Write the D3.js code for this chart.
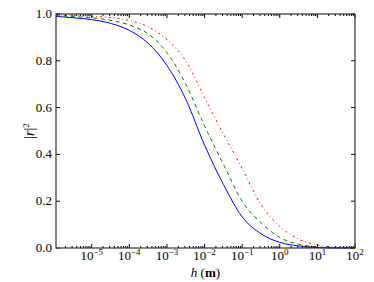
<!DOCTYPE html>
<html>
<head>
<meta charset="utf-8">
<script src="https://cdn.jsdelivr.net/npm/d3@7"></script>
<style>
  body { margin: 0; background: #fff; }
  text { font-family: "Liberation Serif", "DejaVu Serif", serif; fill: #000; }
</style>
</head>
<body>
<div id="chart"></div>
<script>
// log10(h) sample points shared by the three curves
const logH = [-5.95, -5.5, -5, -4.5, -4, -3.5, -3, -2.5, -2, -1.5, -1, -0.5, 0, 0.5, 1, 1.5, 2];
// |r|^2
const blueVals  = [0.990, 0.984, 0.976, 0.960, 0.930, 0.875, 0.780, 0.636, 0.440, 0.272, 0.133, 0.061, 0.024, 0.009, 0.002, 0.0005, 0.0001];
const greenVals = [0.993, 0.989, 0.984, 0.973, 0.953, 0.915, 0.835, 0.700, 0.522, 0.358, 0.200, 0.108, 0.045, 0.016, 0.004, 0.001, 0.0002];
const redVals   = [0.996, 0.994, 0.990, 0.985, 0.972, 0.945, 0.890, 0.800, 0.642, 0.488, 0.340, 0.185, 0.092, 0.038, 0.013, 0.003, 0.001];
const xTickExp = [-5, -4, -3, -2, -1, 0, 1, 2];
const yTicks = [0.0, 0.2, 0.4, 0.6, 0.8, 1.0];

const W = 374, H = 282;
const m = {left: 56, right: 19, top: 14, bottom: 34};

let svg = d3.select('#chart').append('svg')
            .attr('width', W)
            .attr('height', H);

let x = d3.scaleLog()
          .domain([Math.pow(10, -5.95), 100])
          .range([m.left, W - m.right]);
let y = d3.scaleLinear()
          .domain([0, 1])
          .range([H - m.bottom, m.top]);

// minor ticks on the log axis
let minor = [];
for (let e = -6; e < 2; e++) {
  for (let k = 2; k <= 9; k++) {
    let v = k * Math.pow(10, e);
    if (v >= x.domain()[0] && v <= x.domain()[1]) minor.push(v);
  }
}
let major = xTickExp.map(e => Math.pow(10, e));

let plot = svg.append('g');

// curves
let series = [
  {vals: blueVals,  color: '#0000ff', dash: null},
  {vals: greenVals, color: '#008000', dash: '4,3.5'},
  {vals: redVals,   color: '#ff0000', dash: '2,3,0.8,3'}
];
let line = d3.line()
             .x(d => x(Math.pow(10, d[0])))
             .y(d => y(d[1]))
             .curve(d3.curveMonotoneX);

plot.selectAll('path.curve').data(series)
    .join('path')
    .attr('class', 'curve')
    .attr('fill', 'none')
    .attr('stroke', d => d.color)
    .attr('stroke-width', 1)
    .attr('stroke-dasharray', d => d.dash)
    .attr('d', d => line(logH.map((l, i) => [l, d.vals[i]])));

// ticks (inward, on all four sides)
let tk = svg.append('g').attr('stroke', '#000').attr('stroke-width', 1);
const y0 = H - m.bottom, y1 = m.top, x0 = m.left, x1 = W - m.right;
tk.selectAll('line.xmaj').data(major).join('line')
  .attr('x1', d => x(d)).attr('x2', d => x(d))
  .attr('y1', y0).attr('y2', y0 - 4);
tk.selectAll('line.xmajt').data(major).join('line')
  .attr('x1', d => x(d)).attr('x2', d => x(d))
  .attr('y1', y1).attr('y2', y1 + 4);
tk.selectAll('line.xmin').data(minor).join('line')
  .attr('x1', d => x(d)).attr('x2', d => x(d))
  .attr('y1', y0).attr('y2', y0 - 2);
tk.selectAll('line.xmint').data(minor).join('line')
  .attr('x1', d => x(d)).attr('x2', d => x(d))
  .attr('y1', y1).attr('y2', y1 + 2);
tk.selectAll('line.yl').data(yTicks).join('line')
  .attr('x1', x0).attr('x2', x0 + 4)
  .attr('y1', d => y(d)).attr('y2', d => y(d));
tk.selectAll('line.yr').data(yTicks).join('line')
  .attr('x1', x1).attr('x2', x1 - 4)
  .attr('y1', d => y(d)).attr('y2', d => y(d));

// frame
svg.append('rect')
   .attr('x', x0).attr('y', y1)
   .attr('width', x1 - x0).attr('height', y0 - y1)
   .attr('fill', 'none')
   .attr('stroke', '#333')
   .attr('stroke-width', 1.2);

// y tick labels
svg.selectAll('text.ylab').data(yTicks).join('text')
   .attr('class', 'ylab')
   .attr('x', x0 - 4)
   .attr('y', d => y(d) + 4)
   .attr('text-anchor', 'end')
   .style('font-size', '13px')
   .text(d => d.toFixed(1));

// x tick labels 10^e
let xl = svg.selectAll('text.xlab').data(xTickExp).join('text')
   .attr('class', 'xlab')
   .attr('x', d => x(Math.pow(10, d)))
   .attr('y', y0 + 12)
   .attr('text-anchor', 'middle')
   .style('font-size', '13px');
xl.append('tspan').text('10');
xl.append('tspan')
  .attr('dy', -5)
  .style('font-size', '9px')
  .text(d => d < 0 ? '\u2212' + (-d) : String(d));

// axis labels
let xt = svg.append('text')
   .attr('x', (x0 + x1) / 2)
   .attr('y', H - 5)
   .attr('text-anchor', 'middle')
   .style('font-size', '13px');
xt.append('tspan').style('font-style', 'italic').text('h');
xt.append('tspan').text(' (');
xt.append('tspan').style('font-weight', 'bold').text('m');
xt.append('tspan').text(')');

let yt = svg.append('text')
   .attr('transform', `translate(34,${(y0 + y1) / 2}) rotate(-90)`)
   .attr('text-anchor', 'middle')
   .style('font-size', '14px');
yt.append('tspan').text('|');
yt.append('tspan').style('font-style', 'italic').text('r');
yt.append('tspan').text('|');
yt.append('tspan').attr('dy', -5).style('font-size', '9px').text('2');
</script>
</body>
</html>
